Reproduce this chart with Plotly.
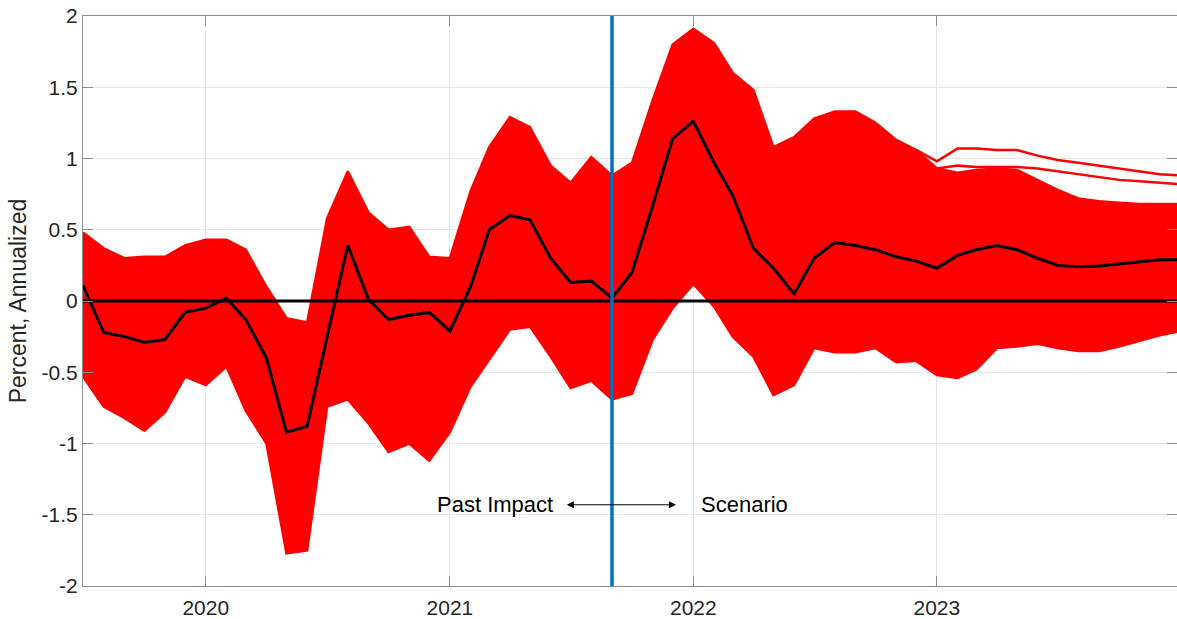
import pandas as pd
import plotly.graph_objects as go

# Monthly dates: Jul 2019 .. Jan 2024
months = pd.date_range("2019-07-01", "2024-01-01", freq="MS")

median = [0.11, -0.22, -0.25, -0.29, -0.27, -0.08, -0.05, 0.02, -0.13, -0.40,
          -0.92, -0.88, -0.25, 0.39, 0.01, -0.13, -0.10, -0.08, -0.21, 0.10,
          0.50, 0.60, 0.57, 0.30, 0.13, 0.14, 0.02, 0.20, 0.67, 1.14,
          1.26, 0.97, 0.74, 0.37, 0.23, 0.05, 0.30, 0.41, 0.39, 0.36,
          0.31, 0.28, 0.23, 0.32, 0.36, 0.39, 0.36, 0.30, 0.25, 0.24,
          0.245, 0.26, 0.28, 0.29, 0.29]

upper = [0.48, 0.37, 0.30, 0.31, 0.31, 0.39, 0.43, 0.43, 0.36, 0.10,
         -0.12, -0.15, 0.58, 0.91, 0.62, 0.50, 0.52, 0.31, 0.30, 0.77,
         1.08, 1.29, 1.22, 0.95, 0.83, 1.01, 0.88, 0.97, 1.41, 1.80,
         1.91, 1.81, 1.60, 1.48, 1.08, 1.15, 1.28, 1.33, 1.33, 1.25,
         1.13, 1.06, 0.93, 0.90, 0.92, 0.93, 0.92, 0.85, 0.78, 0.72,
         0.70, 0.69, 0.68, 0.68, 0.68]

lower = [-0.53, -0.74, -0.82, -0.91, -0.78, -0.53, -0.59, -0.46, -0.77, -1.00,
         -1.77, -1.75, -0.74, -0.69, -0.86, -1.06, -1.00, -1.12, -0.92, -0.60,
         -0.41, -0.20, -0.18, -0.39, -0.61, -0.56, -0.69, -0.65, -0.27, -0.05,
         0.12, -0.04, -0.25, -0.39, -0.66, -0.59, -0.33, -0.36, -0.36, -0.33,
         -0.43, -0.42, -0.52, -0.54, -0.48, -0.33, -0.32, -0.30, -0.33, -0.35,
         -0.35, -0.32, -0.28, -0.24, -0.21]

# Outlying draws in 2023 (start at month index 41)
outlier_start = 41
outlier_a = [1.06, 0.98, 1.07, 1.07, 1.06, 1.06, 1.02, 0.99, 0.97, 0.95, 0.93, 0.91, 0.89, 0.88]
outlier_b = [1.00, 0.93, 0.95, 0.94, 0.94, 0.94, 0.93, 0.91, 0.89, 0.87, 0.85, 0.84, 0.83, 0.82]

split_date = "2021-09-01"
year_ticks = ["2020-01-01", "2021-01-01", "2022-01-01", "2023-01-01"]
year_labels = ["2020", "2021", "2022", "2023"]
y_ticks = [-2, -1.5, -1, -0.5, 0, 0.5, 1, 1.5, 2]
y_labels = ["-2", "-1.5", "-1", "-0.5", "0", "0.5", "1", "1.5", "2"]

RED = "#ff0000"
FONT = "Arial, Liberation Sans, sans-serif"

fig = go.Figure()
fig.add_trace(go.Scatter(x=months, y=lower, mode="lines",
                         line=dict(color=RED, width=2.5), showlegend=False))
fig.add_trace(go.Scatter(x=months, y=upper, mode="lines", fill="tonexty",
                         fillcolor=RED, line=dict(color=RED, width=2.5),
                         showlegend=False))
for o in (outlier_a, outlier_b):
    fig.add_trace(go.Scatter(x=months[outlier_start:outlier_start + len(o)], y=o,
                             mode="lines", line=dict(color=RED, width=2.5),
                             showlegend=False))
fig.add_trace(go.Scatter(x=months, y=[0] * len(months), mode="lines",
                         line=dict(color="black", width=3), showlegend=False))
fig.add_trace(go.Scatter(x=months, y=median, mode="lines",
                         line=dict(color="black", width=3), showlegend=False))

fig.add_shape(type="line", xref="x", yref="paper", x0=split_date, x1=split_date,
              y0=0, y1=1, line=dict(color="#0072BD", width=3.5))

# Annotation: Past Impact <-> Scenario
fig.add_annotation(x="2021-12-06", y=-1.43, ax="2021-06-23", ay=-1.43,
                   xref="x", yref="y", axref="x", ayref="y", text="",
                   showarrow=True, arrowside="end+start", arrowhead=2,
                   arrowwidth=1, arrowsize=1.4, arrowcolor="black")
fig.add_annotation(x="2021-06-08", y=-1.43, xref="x", yref="y", text="Past Impact",
                   showarrow=False, xanchor="right",
                   font=dict(family=FONT, size=22, color="black"))
fig.add_annotation(x="2022-01-09", y=-1.43, xref="x", yref="y", text="Scenario",
                   showarrow=False, xanchor="left",
                   font=dict(family=FONT, size=22, color="black"))

axis_common = dict(showline=True, linecolor="#8c8c8c", linewidth=1.2, mirror="ticks",
                   ticks="inside", ticklen=10, tickcolor="#8c8c8c", tickwidth=1.2,
                   showgrid=True, gridcolor="#e6e6e6", gridwidth=1, zeroline=False,
                   automargin=False,
                   tickfont=dict(family=FONT, size=21, color="#262626"))

fig.update_layout(
    width=1177, height=619,
    margin=dict(l=83, r=0, t=16, b=33),
    plot_bgcolor="white", paper_bgcolor="white",
    xaxis=dict(range=["2019-07-01", "2023-12-27"], tickvals=year_ticks,
               ticktext=year_labels, ticklabelstandoff=3, **axis_common),
    yaxis=dict(range=[-2, 2], tickvals=y_ticks, ticktext=y_labels,
               title=dict(text="Percent, Annualized", standoff=8,
                          font=dict(family=FONT, size=23, color="#262626")),
               **axis_common),
)

fig.write_html("out.html",
               config={"displayModeBar": False},
               post_script="document.body.style.margin='0';"
                           "document.body.style.overflow='hidden';")
